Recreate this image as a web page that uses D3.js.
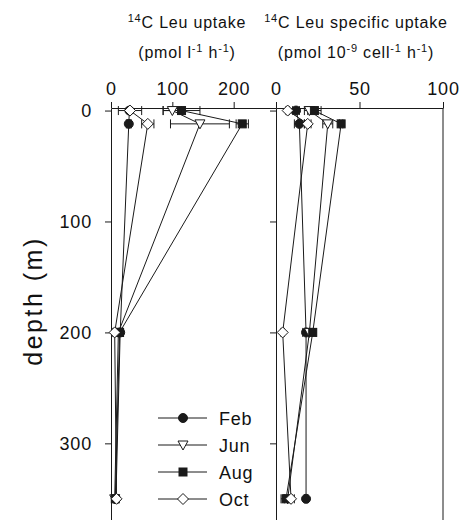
<!DOCTYPE html>
<html><head><meta charset="utf-8">
<script src="https://cdn.jsdelivr.net/npm/d3@7"></script>
<style>body{margin:0;background:#fff}svg{display:block}text{font-family:"Liberation Sans",Arial,sans-serif;fill:#111}</style>
</head><body><svg id="c" width="460" height="520"></svg>
<script>
const months = ["Feb","Jun","Aug","Oct"];
const depths = [0, 12, 200, 350];
const uptake = {Feb:[30,29,15,8], Jun:[100,145,12,6], Aug:[115,214,14,7], Oct:[31,60,6,9]};
const uptakeErr = {Feb:[0,4,5,3], Jun:[15,48,4,2], Aug:[30,10,5,2], Oct:[19,10,3,3]};
const specific = {Feb:[12,14,18,18], Jun:[20,31,20,7], Aug:[23,39,22,6], Oct:[7,19,4,9]};
const specificErr = {Feb:[2,3,2,1], Jun:[3,3,2,2], Aug:[4,1,2,3], Oct:[1,2,1,2]};
const depthTicks = [0,100,200,300];
const uptakeTicks = [0,100,200];
const specificTicks = [0,50,100];

const svg = d3.select("#c");
const y = d3.scaleLinear().domain([-2.3, 370]).range([108, 521]);
const xL = d3.scaleLinear().domain([0, 269]).range([111, 276]);
const xR = d3.scaleLinear().domain([0, 100]).range([276, 443]);
const ink = "#1a1a1a";

// Titles
function title(cx, y0, parts, ls){
  const t = svg.append("text").attr("x", cx).attr("y", y0).attr("text-anchor","middle")
    .style("font-size","16px").style("letter-spacing", ls+"px");
  parts.forEach(p=>{
    const s = t.append("tspan").text(p[0]);
    if(p[1]) s.attr("baseline-shift","super").style("font-size","11px");
  });
}
title(187, 28, [["14",1],["C Leu uptake"]], 0.8);
title(187, 58, [["(pmol l"],["-1",1],[" h"],["-1",1],[")"]], 0.8);
title(356, 28, [["14",1],["C Leu specific uptake"]], 0.8);
title(356, 58, [["(pmol 10"],["-9",1],[" cell"],["-1",1],[" h"],["-1",1],[")"]], 0.8);

// Axes
const top0 = y.range()[0];
function topAxis(x, ticks){
  const g = svg.append("g").attr("transform",`translate(0,${top0})`)
    .call(d3.axisTop(x).tickValues(ticks).tickSize(6).tickSizeOuter(0).tickFormat(d3.format("d")));
  g.select(".domain").attr("stroke",ink);
  g.selectAll(".tick line").attr("stroke",ink);
  g.selectAll(".tick text").style("font-size","18px").style("letter-spacing","0.8px").attr("dy","-0.2em").attr("fill","#111");
}
topAxis(xL, uptakeTicks);
topAxis(xR, specificTicks);

function leftAxis(x0, labels){
  const g = svg.append("g").attr("transform",`translate(${x0},0)`)
    .call(d3.axisLeft(y).tickValues(depthTicks).tickSize(6).tickSizeOuter(0).tickFormat(labels? d3.format("d") : ""));
  g.select(".domain").attr("stroke",ink);
  g.selectAll(".tick line").attr("stroke",ink);
  g.selectAll(".tick text").style("font-size","18px").style("letter-spacing","0.8px").attr("x",-19).attr("fill","#111");
  return g;
}
leftAxis(xL(0), true);
leftAxis(xR(0), false);
svg.append("line").attr("x1",xR(100)).attr("x2",xR(100)).attr("y1",top0).attr("y2",520).attr("stroke",ink);

svg.append("text").attr("transform",`translate(42,301) rotate(-90)`).attr("text-anchor","middle")
  .style("font-size","25px").style("letter-spacing","2.5px").text("depth (m)");

// Markers
function marker(g, m, cx, cy, s){
  s = s || 1;
  if(m==="Feb") g.append("circle").attr("cx",cx).attr("cy",cy).attr("r",4.5*s).attr("fill",ink).attr("stroke",ink);
  else if(m==="Aug") g.append("rect").attr("x",cx-4*s).attr("y",cy-4*s).attr("width",8*s).attr("height",8*s).attr("fill",ink).attr("stroke",ink);
  else if(m==="Jun") g.append("path").attr("d",`M${cx-5*s},${cy-4*s}L${cx+5*s},${cy-4*s}L${cx},${cy+5*s}Z`).attr("fill","#fff").attr("stroke",ink);
  else g.append("path").attr("d",`M${cx},${cy-5.5*s}L${cx+5.5*s},${cy}L${cx},${cy+5.5*s}L${cx-5.5*s},${cy}Z`).attr("fill","#fff").attr("stroke",ink);
}

function panel(x, vals, errs){
  const g = svg.append("g");
  months.forEach(m=>{
    const pts = depths.map((d,i)=>({d, v: vals[m][i], e: errs[m][i]}));
    g.append("path").attr("d", d3.line().x(p=>x(p.v)).y(p=>y(p.d))(pts)).attr("fill","none").attr("stroke",ink).attr("stroke-width",1);
    pts.forEach(p=>{
      if(p.e>0){
        const yy=y(p.d), a=x(p.v-p.e), b=x(p.v+p.e);
        g.append("line").attr("x1",a).attr("x2",b).attr("y1",yy).attr("y2",yy).attr("stroke",ink);
        [a,b].forEach(xx=>g.append("line").attr("x1",xx).attr("x2",xx).attr("y1",yy-4.5).attr("y2",yy+4.5).attr("stroke",ink));
      }
    });
  });
  months.forEach(m=>{
    depths.forEach((d,i)=>marker(g, m, x(vals[m][i]), y(d)));
  });
}
panel(xL, uptake, uptakeErr);
panel(xR, specific, specificErr);

// Legend
const lg = svg.append("g");
months.forEach((m,i)=>{
  const yy = 418 + i*27;
  lg.append("line").attr("x1",158).attr("x2",207).attr("y1",yy).attr("y2",yy).attr("stroke",ink);
  marker(lg, m, 183, yy);
  lg.append("text").attr("x",219).attr("y",yy+6.5).style("font-size","18px").style("letter-spacing","0.8px").text(m);
});
</script></body></html>
